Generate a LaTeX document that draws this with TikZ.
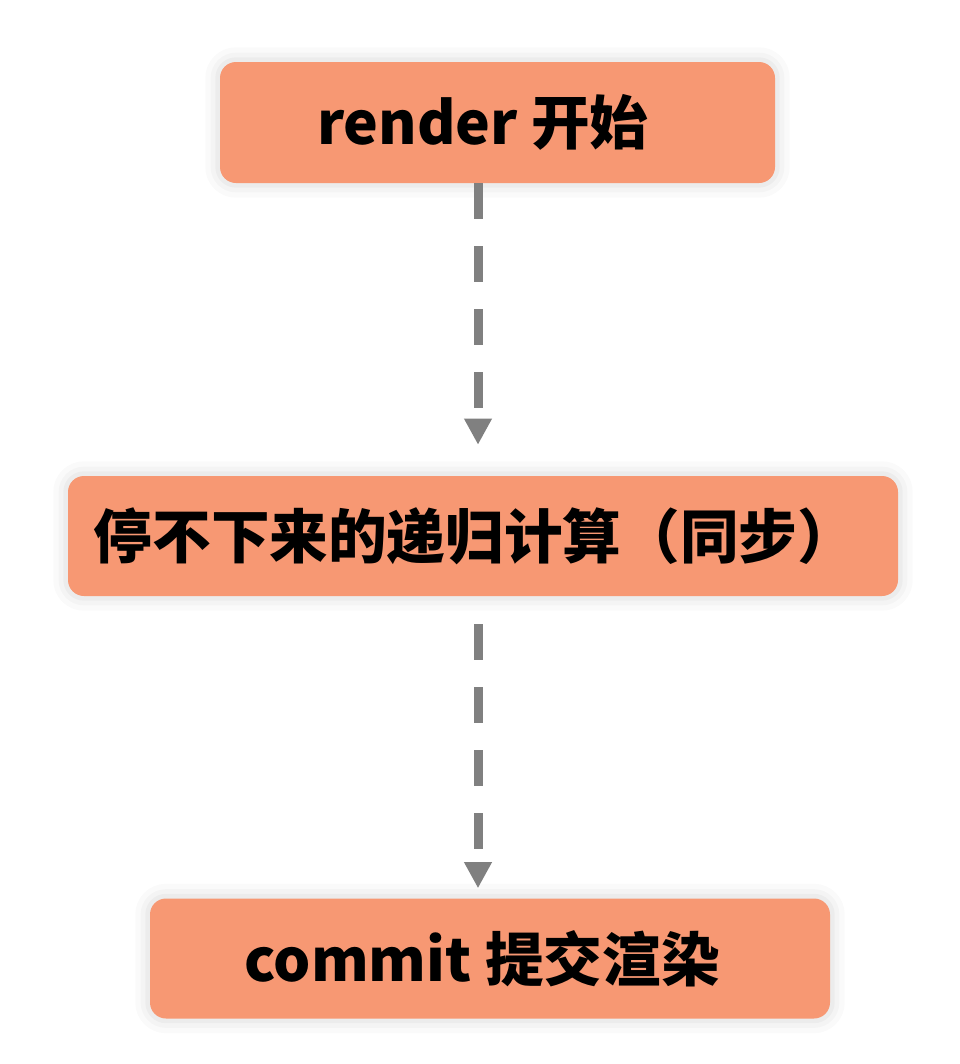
\documentclass[tikz,border=0pt]{standalone}
\usepackage{fontspec}
\newfontfamily\cjk{Noto Sans CJK SC}
\usetikzlibrary{arrows.meta}
\definecolor{boxfill}{HTML}{F79873}
\definecolor{linkgray}{HTML}{808080}
\tikzset{
  stagebox/.style={rounded corners=12pt, fill=boxfill, inner sep=0pt,
    font=\cjk\bfseries\fontsize{44}{50}\selectfont, text=black,
    preaction={draw=black, draw opacity=0.02, line width=22pt},
    preaction={draw=black, draw opacity=0.025, line width=14pt},
    preaction={draw=black, draw opacity=0.03, line width=7pt}},
  flow/.style={draw=linkgray, line width=6.75pt, dash pattern=on 27pt off 20.25pt,
    -{Triangle[width=19.5pt, length=19.5pt]}}
}
\begin{document}
\begin{tikzpicture}[x=0.75pt, y=-0.75pt]
  \useasboundingbox (0,0) rectangle (960,1064);
  \fill[white] (0,0) rectangle (960,1064);
  \coordinate (spine) at (478,0);
  \node[stagebox, minimum width=416.25pt, minimum height=90.75pt] (start) at (497.5,122.5) {render 开始\kern22pt};
  \node[stagebox, minimum width=622.5pt, minimum height=90pt] (work) at (483,536) {停不下来的递归计算（同步）\kern12pt};
  \node[stagebox, minimum width=510pt, minimum height=90pt] (commit) at (490,958.5) {commit 提交渲染\kern12pt};
  \draw[flow, shorten >=23.25pt] (start.south -| spine) -- (work.north -| spine);
  \draw[flow, shorten <=21pt, shorten >=7.5pt] (work.south -| spine) -- (commit.north -| spine);
\end{tikzpicture}
\end{document}
